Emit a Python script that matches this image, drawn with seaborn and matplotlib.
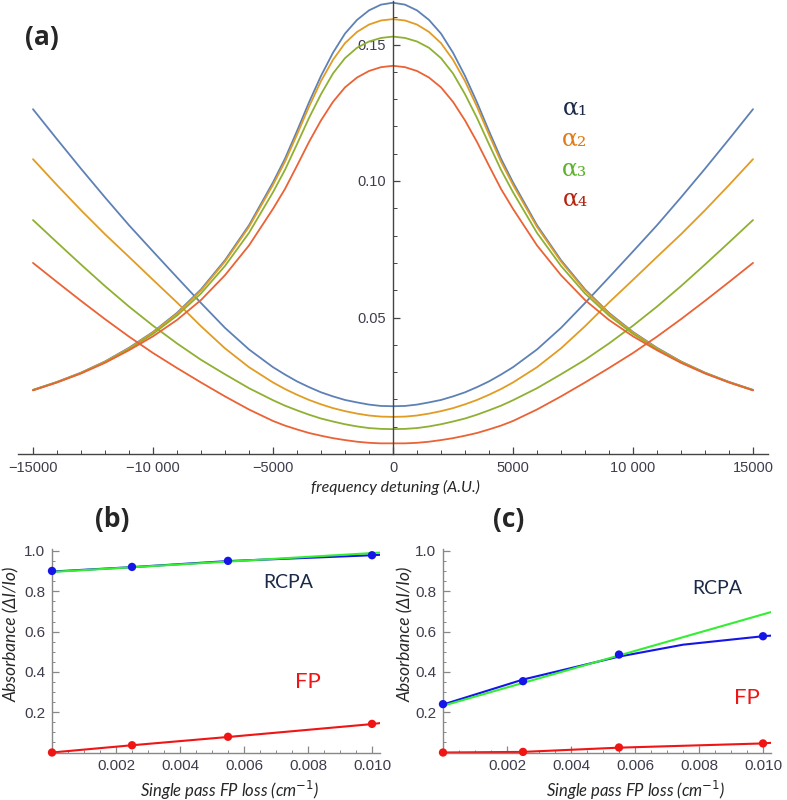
import numpy as np
import pandas as pd
import matplotlib
matplotlib.use("Agg")
import matplotlib.pyplot as plt
from matplotlib.ticker import MultipleLocator
import seaborn as sns

# ---------------------------------------------------------------------------
# Data (curves are symmetric about zero detuning)
# ---------------------------------------------------------------------------
detuning_half = [0, 500, 1000, 1500, 2000, 2500, 3000, 3500, 4000, 4500,
                 5000, 6000, 7000, 8000, 9000, 10000, 11000, 12000, 13000,
                 14000, 15000]

peak_a1 = [0.1653, 0.1646, 0.1625, 0.1590, 0.1540, 0.1470, 0.1385, 0.1288,
           0.1183, 0.1082, 0.0995, 0.0838, 0.0710, 0.0603, 0.0517, 0.0447,
           0.0389, 0.0339, 0.0298, 0.0264, 0.0235]
peak_a2 = [0.1593, 0.1588, 0.1573, 0.1546, 0.1505, 0.1444, 0.1366, 0.1272,
           0.1170, 0.1071, 0.0986, 0.0832, 0.0705, 0.0599, 0.0514, 0.0445,
           0.0387, 0.0338, 0.0297, 0.0263, 0.0234]
peak_a3 = [0.1529, 0.1524, 0.1511, 0.1488, 0.1450, 0.1394, 0.1318, 0.1231,
           0.1135, 0.1041, 0.0959, 0.0810, 0.0689, 0.0588, 0.0507, 0.0440,
           0.0384, 0.0336, 0.0296, 0.0263, 0.0234]
peak_a4 = [0.1422, 0.1417, 0.1403, 0.1379, 0.1343, 0.1290, 0.1222, 0.1143,
           0.1056, 0.0971, 0.0898, 0.0764, 0.0655, 0.0564, 0.0491, 0.0431,
           0.0380, 0.0334, 0.0295, 0.0262, 0.0233]

dip_a1 = [0.0175, 0.0176, 0.0181, 0.0189, 0.0198, 0.0211, 0.0226, 0.0245,
          0.0266, 0.0291, 0.0318, 0.0383, 0.0462, 0.0553, 0.0647, 0.0742,
          0.0838, 0.0940, 0.1045, 0.1153, 0.1263]
dip_a2 = [0.0136, 0.0137, 0.0141, 0.0148, 0.0157, 0.0168, 0.0182, 0.0198,
          0.0217, 0.0238, 0.0262, 0.0318, 0.0387, 0.0468, 0.0555, 0.0638,
          0.0722, 0.0805, 0.0893, 0.0985, 0.1080]
dip_a3 = [0.0091, 0.0092, 0.0095, 0.0101, 0.0109, 0.0119, 0.0130, 0.0144,
          0.0160, 0.0177, 0.0197, 0.0241, 0.0292, 0.0345, 0.0405, 0.0470,
          0.0540, 0.0615, 0.0694, 0.0775, 0.0857]
dip_a4 = [0.0039, 0.0039, 0.0041, 0.0045, 0.0051, 0.0058, 0.0067, 0.0077,
          0.0090, 0.0104, 0.0121, 0.0163, 0.0211, 0.0262, 0.0315, 0.0370,
          0.0430, 0.0494, 0.0561, 0.0630, 0.0700]

alpha_labels = ["α₁", "α₂", "α₃", "α₄"]

# panels (b) and (c): single pass FP loss vs absorbance
loss_pts = [0.0, 0.0025, 0.0055, 0.0100]
loss_line = [0.0, 0.0025, 0.0055, 0.0100, 0.01025]
fit_x = [0.0, 0.01025]

b_rcpa_pts = [0.901, 0.921, 0.951, 0.979]
b_rcpa_line = [0.898, 0.920, 0.950, 0.979, 0.981]
b_rcpa_fit = [0.896, 0.992]
b_fp_pts = [0.0, 0.036, 0.078, 0.142]
b_fp_line = [0.0, 0.036, 0.077, 0.141, 0.146]

c_rcpa_pts = [0.240, 0.354, 0.486, 0.577]
c_rcpa_line_x = [0.0, 0.0025, 0.0055, 0.0075, 0.0100, 0.01025]
c_rcpa_line = [0.238, 0.362, 0.476, 0.535, 0.577, 0.580]
c_rcpa_fit = [0.232, 0.697]
c_fp_pts = [0.0, 0.003, 0.025, 0.045]
c_fp_line = [0.0, 0.003, 0.024, 0.045, 0.048]

# ---------------------------------------------------------------------------
# Style
# ---------------------------------------------------------------------------
sns.set_style("ticks")
plt.rcParams["font.family"] = ["Liberation Sans", "DejaVu Sans"]

W, H = 787, 800
CURVE_COLS = ["#5E81B5", "#E19C24", "#8FB032", "#EB6235"]
ALPHA_COLS = ["#1b2a48", "#e07b15", "#5db32a", "#b5240e"]
TICK_COL = "#3d3d4d"
AXIS_COL = "#444444"


def fx(px):
    return px / W


def fy(py):
    return 1 - py / H


fig = plt.figure(figsize=(W / 100, H / 100), dpi=100)

# ---------------------------------------------------------------------------
# (a) detuning curves
# ---------------------------------------------------------------------------
half = np.array(detuning_half, dtype=float)
x_full = np.concatenate([-half[::-1], half[1:]])

rows = []
for i, (pk, dp) in enumerate(zip([peak_a1, peak_a2, peak_a3, peak_a4],
                                 [dip_a1, dip_a2, dip_a3, dip_a4])):
    for kind, v in (("peak", np.array(pk)), ("dip", np.array(dp))):
        y_full = np.concatenate([v[::-1], v[1:]])
        rows.append(pd.DataFrame({"detuning": x_full, "signal": y_full,
                                  "curve": f"{kind}{i}"}))
top_df = pd.concat(rows, ignore_index=True)
palette = {f"{k}{i}": CURVE_COLS[i] for i in range(4) for k in ("peak", "dip")}

ax_a = fig.add_axes([fx(18), fy(454), 750 / W, 453 / H])
sns.lineplot(data=top_df, x="detuning", y="signal", hue="curve",
             palette=palette, legend=False, estimator=None, linewidth=1.3,
             ax=ax_a)
ax_a.set_xlim(-15625, 15625)
ax_a.set_ylim(0, 453 / 2730)
ax_a.spines["left"].set_position(("data", 0))
ax_a.spines["right"].set_visible(False)
ax_a.spines["top"].set_visible(False)
for s in ("left", "bottom"):
    ax_a.spines[s].set_color(AXIS_COL)
    ax_a.spines[s].set_linewidth(1.0)
ax_a.set_xticks([-15000, -10000, -5000, 0, 5000, 10000, 15000])
ax_a.set_xticklabels(["−15000", "−10 000", "−5000", "0", "5000",
                      "10 000", "15000"])
ax_a.set_yticks([0.05, 0.10, 0.15])
ax_a.set_yticklabels(["0.05", "0.10", "0.15"])
ax_a.xaxis.set_minor_locator(MultipleLocator(1000))
ax_a.yaxis.set_minor_locator(MultipleLocator(0.01))
ax_a.tick_params(which="both", direction="in", color=AXIS_COL,
                 labelcolor=TICK_COL, labelsize=10.5)
ax_a.tick_params(which="major", length=5, width=0.9, pad=5)
ax_a.tick_params(which="minor", length=3, width=0.7)
ax_a.set_xlabel("")
ax_a.set_ylabel("")

for i, lab in enumerate(alpha_labels):
    fig.text(fx(575), fy(108 + 30.5 * i), lab, color=ALPHA_COLS[i],
             fontsize=17, family="DejaVu Serif", ha="center", va="center")

fig.text(fx(42), fy(37), "(a)", fontsize=19, fontweight="bold",
         family="Open Sans", ha="center", va="center")
fig.text(fx(395), fy(487), "frequency detuning (A.U.)", fontsize=11.5,
         style="italic", family="Lato", ha="center", va="center")


# ---------------------------------------------------------------------------
# (b), (c) absorbance vs loss
# ---------------------------------------------------------------------------
def loss_panel(ax, rcpa_pts, rcpa_line_x, rcpa_line, rcpa_fit, fp_pts, fp_line):
    sns.lineplot(x=rcpa_line_x, y=rcpa_line, color="#1515e8", linewidth=1.5,
                 estimator=None, ax=ax, zorder=2)
    sns.lineplot(x=fit_x, y=rcpa_fit, color="#33ee33", linewidth=1.5,
                 estimator=None, ax=ax, zorder=3)
    sns.lineplot(x=loss_line, y=fp_line, color="#f01515", linewidth=1.5,
                 estimator=None, ax=ax, zorder=2)
    sns.scatterplot(x=loss_pts, y=rcpa_pts, color="#1515e8", s=36,
                    edgecolor="none", ax=ax, zorder=4, clip_on=False)
    sns.scatterplot(x=loss_pts, y=fp_pts, color="#f01515", s=36,
                    edgecolor="none", ax=ax, zorder=4, clip_on=False)
    ax.set_xlim(0, 0.01025)
    ax.set_ylim(0, 1.01)
    ax.spines["right"].set_visible(False)
    ax.spines["top"].set_visible(False)
    for s in ("left", "bottom"):
        ax.spines[s].set_color("#888888")
        ax.spines[s].set_linewidth(1.0)
    ax.set_xticks([0.002, 0.004, 0.006, 0.008, 0.010])
    ax.set_xticklabels(["0.002", "0.004", "0.006", "0.008", "0.010"])
    ax.set_yticks([0.2, 0.4, 0.6, 0.8, 1.0])
    ax.set_yticklabels(["0.2", "0.4", "0.6", "0.8", "1.0"])
    ax.xaxis.set_minor_locator(MultipleLocator(0.0005))
    ax.yaxis.set_minor_locator(MultipleLocator(0.05))
    ax.tick_params(which="both", direction="in", color="#888888",
                   labelcolor=TICK_COL, labelsize=11)
    ax.tick_params(which="major", length=5, width=0.9, pad=5)
    ax.tick_params(which="minor", length=2.5, width=0.7)
    ax.set_xlabel("")
    ax.set_ylabel("")


ax_b = fig.add_axes([fx(52), fy(752.5), 328 / W, 1.01 * 201.5 / H])
loss_panel(ax_b, b_rcpa_pts, loss_line, b_rcpa_line, b_rcpa_fit,
           b_fp_pts, b_fp_line)
ax_c = fig.add_axes([fx(443), fy(752.5), 328 / W, 1.01 * 201.5 / H])
loss_panel(ax_c, c_rcpa_pts, c_rcpa_line_x, c_rcpa_line, c_rcpa_fit,
           c_fp_pts, c_fp_line)

lab_kw = dict(family="Lato", ha="center", va="center")
fig.text(fx(112), fy(519), "(b)", fontsize=19, fontweight="bold",
         family="Open Sans", ha="center", va="center")
fig.text(fx(509), fy(520), "(c)", fontsize=19, fontweight="bold",
         family="Open Sans", ha="center", va="center")
fig.text(fx(288), fy(583), "RCPA", fontsize=14, color="#1b2a48", **lab_kw)
fig.text(fx(717), fy(588), "RCPA", fontsize=14, color="#1b2a48", **lab_kw)
fig.text(fx(308), fy(682), "FP", fontsize=16, color="#f01515", **lab_kw)
fig.text(fx(747), fy(698), "FP", fontsize=16, color="#f01515", **lab_kw)
for xpx in (12, 406):
    fig.text(fx(xpx), fy(634), "Absorbance (ΔI/Io)", fontsize=12.5,
             style="italic", rotation=90, **lab_kw)
for xpx in (230, 636):
    fig.text(fx(xpx), fy(790), "Single pass FP loss (cm$^{-1}$)",
             fontsize=12, style="italic", **lab_kw)

fig.savefig("out.png", dpi=100)
